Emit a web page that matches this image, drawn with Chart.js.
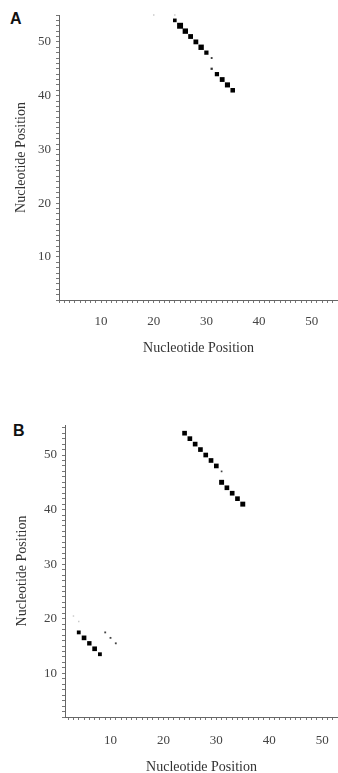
<!DOCTYPE html>
<html>
<head>
<meta charset="utf-8">
<script src="https://cdn.jsdelivr.net/npm/chart.js@4/dist/chart.umd.min.js"></script>
<style>
  html, body { margin: 0; padding: 0; background: #fff; overflow: hidden; }
  #wrap { position: relative; width: 338px; height: 773px; }
  canvas { position: absolute; left: 0; }
  .lab { position: absolute; font-family: "Liberation Sans", Arial, sans-serif; font-weight: bold; font-size: 16px; color: #111; }
</style>
</head>
<body>
<div id="wrap">
  <div class="lab" style="left:10px;top:10px;">A</div>
  <canvas id="cA" width="338" height="372" style="top:0px;"></canvas>
  <div class="lab" style="left:13px;top:422px;">B</div>
  <canvas id="cB" width="338" height="380" style="top:400px;"></canvas>
</div>
<script>
// ---- Data ----
const axisTitle = "Nucleotide Position";
const tickLabels = [10, 20, 30, 40, 50];

// Panel A: strong pairs
const aX     = [24, 25, 26, 27, 28, 29, 30, 32, 33, 34, 35];
const aY     = [54, 53, 52, 51, 50, 49, 48, 44, 43, 42, 41];
const aSize  = [2.6, 4.2, 3.8, 3.4, 3.4, 3.8, 3.0, 3.0, 3.4, 3.6, 3.2];
// Panel A: weak pairs
const aWeakX = [31, 31];
const aWeakY = [47, 45];
const aWeakSize = [1.3, 1.6];
// Panel A: faint pairs
const aFaintX = [20, 24];
const aFaintY = [55, 55];

// Panel B: strong pairs (upper helix)
const bX    = [24, 25, 26, 27, 28, 29, 30, 31, 32, 33, 34, 35];
const bY    = [54, 53, 52, 51, 50, 49, 48, 45, 44, 43, 42, 41];
const bSize = [3.3, 3.3, 3.3, 3.3, 3.3, 3.3, 3.3, 3.5, 3.3, 3.3, 3.3, 3.5];
// Panel B: lower helix
const bLowX = [4, 5, 6, 7, 8];
const bLowY = [17.5, 16.5, 15.5, 14.5, 13.5];
const bLowSize = [2.7, 3.3, 3.1, 3.3, 2.7];
// Panel B: weak pairs
const bWeakX = [31, 9, 10, 11];
const bWeakY = [47, 17.5, 16.5, 15.5];
const bWeakSize = [1.2, 1.3, 1.3, 1.3];
// Panel B: faint pairs
const bFaintX = [3, 4];
const bFaintY = [20.5, 19.5];

// ---- Helpers ----
function pts(xs, ys) { return xs.map((x, i) => ({ x: x, y: ys[i] })); }
function ds(xs, ys, sizes, color) {
  return {
    data: pts(xs, ys),
    pointStyle: 'rect',
    pointRadius: sizes,
    pointHoverRadius: sizes,
    backgroundColor: color,
    borderColor: color,
    borderWidth: 0,
    showLine: false,
    clip: false
  };
}
const serif = "'Liberation Serif', 'Times New Roman', serif";

function axis(min, max, fitSize, isX, titlePad, tickPad) {
  return {
    type: 'linear',
    position: isX ? 'bottom' : 'left',
    min: min, max: max,
    afterBuildTicks: s => { s.ticks = s.ticks.filter(t => t.value >= s.min && t.value <= s.max); },
    afterFit: s => {
      if (isX) s.height = fitSize; else s.width = fitSize;
      s.paddingLeft = 0; s.paddingRight = 0; s.paddingTop = 0; s.paddingBottom = 0;
    },
    grid: {
      drawOnChartArea: false, drawTicks: true, tickLength: 3,
      tickColor: '#777', tickWidth: 1
    },
    border: { display: true, color: '#666', width: 1 },
    ticks: {
      stepSize: 1, autoSkip: false, includeBounds: false, maxRotation: 0,
      callback: v => (tickLabels.includes(v) ? String(v) : ''),
      font: { family: serif, size: 13 },
      color: '#444',
      padding: tickPad
    },
    title: {
      display: true, text: axisTitle,
      font: { family: serif, size: 14 },
      color: '#333',
      padding: titlePad
    }
  };
}

function makeChart(id, datasets, xMin, xMax, yMin, yMax, yW, xH, padTop, xTitlePad, yTitlePad, xTickPad) {
  return new Chart(document.getElementById(id), {
    type: 'scatter',
    data: { datasets: datasets },
    options: {
      responsive: false,
      devicePixelRatio: 1,
      animation: false,
      events: [],
      layout: { autoPadding: false, padding: { top: padTop, right: 0, left: 0, bottom: 0 } },
      plugins: { legend: { display: false }, tooltip: { enabled: false } },
      scales: {
        x: axis(xMin, xMax, xH, true, { top: 0, bottom: xTitlePad }, xTickPad),
        y: axis(yMin, yMax, yW, false, { top: yTitlePad, bottom: 0 }, 5)
      }
    }
  });
}

makeChart('cA', [
  ds(aFaintX, aFaintY, [1, 1], '#c8c8c8'),
  ds(aWeakX, aWeakY, aWeakSize, '#333'),
  ds(aX, aY, aSize, '#000')
], 2, 55, 2, 55, 59, 72, 15, 15, 13, 11);

makeChart('cB', [
  ds(bFaintX, bFaintY, [1, 1], '#c8c8c8'),
  ds(bWeakX, bWeakY, bWeakSize, '#444'),
  ds(bLowX, bLowY, bLowSize, '#000'),
  ds(bX, bY, bSize, '#000')
], 1.4, 53, 2, 55.5, 65, 63, 25, 4, 14, 13);
</script>
</body>
</html>
